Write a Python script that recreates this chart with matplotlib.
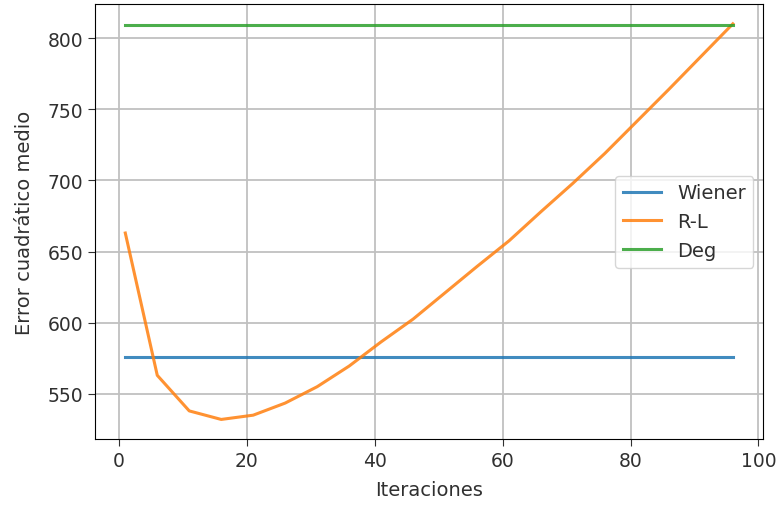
import numpy as np
import matplotlib
matplotlib.use("Agg")
import matplotlib.pyplot as plt

iteraciones = list(range(1, 97, 5))
rl = [663, 563, 538, 532, 535, 543.5, 555, 569.5, 586.5, 602.5,
      621, 639.5, 657.5, 678, 698, 719, 741.5, 764, 787, 810]
wiener = [575.6] * len(iteraciones)
deg = [809.5] * len(iteraciones)


def main():
    plt.rcParams["text.color"] = "#303030"
    plt.rcParams["axes.labelcolor"] = "#303030"
    plt.rcParams["xtick.color"] = "#303030"
    plt.rcParams["ytick.color"] = "#303030"
    fig = plt.figure(figsize=(7.78, 5.06), dpi=100)
    ax = fig.add_axes([0.122, 0.130, 0.859, 0.860])
    ax.plot(iteraciones, wiener, label="Wiener", lw=2.2, alpha=0.85)
    ax.plot(iteraciones, rl, label="R-L", lw=2.2, alpha=0.85)
    ax.plot(iteraciones, deg, label="Deg", lw=2.2, alpha=0.85)
    ax.grid(True, lw=1.3, color="#c0c0c0")
    ax.set_xlabel("Iteraciones", fontsize=14, labelpad=7)
    ax.set_ylabel("Error cuadrático medio", fontsize=14, labelpad=10)
    ax.tick_params(labelsize=13.5, length=5)
    ax.legend(loc="center right", fontsize=14)
    fig.savefig("out.png")


if __name__ == "__main__":
    main()
